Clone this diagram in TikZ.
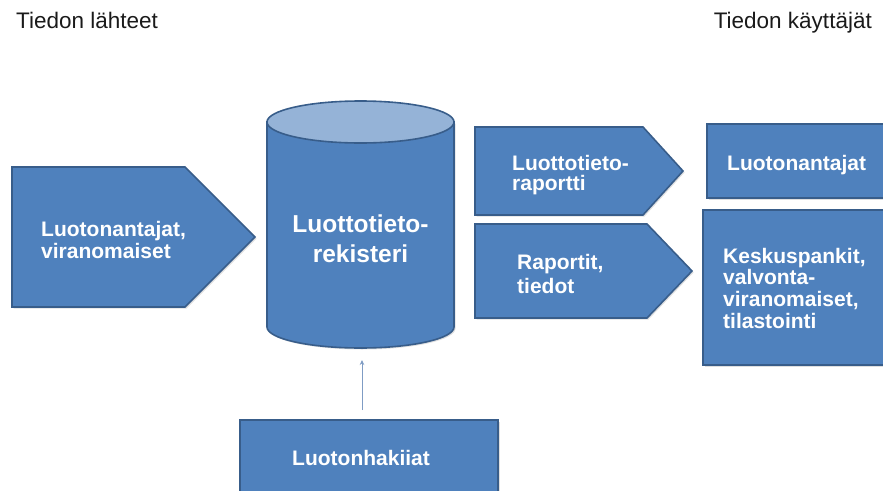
\documentclass[tikz,border=0pt]{standalone}
\usepackage{fontspec}
\setmainfont{Liberation Sans}
\usetikzlibrary{arrows.meta,shadows}
\definecolor{fillblue}{HTML}{4F81BD}
\definecolor{edgeblue}{HTML}{385D8A}
\definecolor{topblue}{HTML}{95B3D7}
\definecolor{arrowblue}{HTML}{7F9CC4}
\definecolor{headgray}{HTML}{1A1A1A}
\begin{document}
\begin{tikzpicture}[x=1pt,y=-1pt,
  shapebox/.style={fill=fillblue, draw=edgeblue, line width=1.6pt, line join=miter,
    drop shadow={shadow xshift=1.5pt, shadow yshift=-1.5pt, opacity=0.25}},
  lbl/.style={text=white, inner sep=0pt, anchor=base west,
    font=\bfseries\fontsize{21}{22}\selectfont},
  head/.style={text=headgray, inner sep=0pt, font=\fontsize{22.5}{26}\selectfont},
  link/.style={arrowblue, line width=0.8pt, -{Stealth[length=5pt,width=4.5pt]}}
]
\useasboundingbox (0,0) rectangle (883,490);
\clip (0,0) rectangle (883,490);

% headings
\node[head, anchor=base west] (hsrc) at (16,28) {Tiedon lähteet};
\node[head, anchor=base east] (husr) at (872,28) {Tiedon käyttäjät};

% left pentagon: sources
\draw[shapebox] (12,167) -- (185,167) -- (255,237) -- (185,307) -- (12,307) -- cycle;
\node[lbl] (src) at (41,236) {\vtop{\baselineskip=22pt\hbox{Luotonantajat,}\hbox{viranomaiset}}};

% cylinder: register
\path[fill=fillblue, draw=edgeblue, line width=1.6pt,
    drop shadow={shadow xshift=1.5pt, shadow yshift=-1.5pt, opacity=0.25}]
  (267,122) -- (267,327) arc[start angle=180, end angle=0, x radius=93.5, y radius=21]
  -- (454,122) -- cycle;
\draw[fill=topblue, draw=edgeblue, line width=1.6pt] (360.5,122) ellipse [x radius=93.5, y radius=21];
\coordinate (cylbot) at (362,360);
\node[inner sep=0pt, text=white, anchor=base, font=\bfseries\fontsize{24.5}{30}\selectfont] (reg) at (360.5,232)
  {\vtop{\baselineskip=30pt\halign{\hfil#\hfil\cr Luottotieto-\cr rekisteri\cr}}};

% right pentagons: outputs
\draw[shapebox] (475,127) -- (643,127) -- (683,171) -- (643,215) -- (475,215) -- cycle;
\node[lbl] (rep) at (512,170) {\vtop{\baselineskip=20pt\hbox{Luottotieto-}\hbox{raportti}}};
\draw[shapebox] (475,224) -- (647,224) -- (692,271) -- (647,318) -- (475,318) -- cycle;
\node[lbl] (rap) at (517,269) {\vtop{\baselineskip=24pt\hbox{Raportit,}\hbox{tiedot}}};

% right boxes: users
\draw[shapebox] (707,124) rectangle (895,198);
\node[lbl] (usr1) at (727,170) {Luotonantajat};
\draw[shapebox] (703,210) rectangle (895,365);
\node[lbl] (usr2) at (723,263) {\vtop{\baselineskip=21.7pt\hbox{Keskuspankit,}\hbox{valvonta-}\hbox{viranomaiset,}\hbox{tilastointi}}};

% bottom box: applicants
\draw[shapebox] (240,420) rectangle (498,505);
\coordinate (haktop) at (362,410);
\node[lbl] (hak) at (292,465) {Luotonhakiiat};

% connector
\draw[link] (haktop) -- (cylbot);
\end{tikzpicture}
\end{document}
